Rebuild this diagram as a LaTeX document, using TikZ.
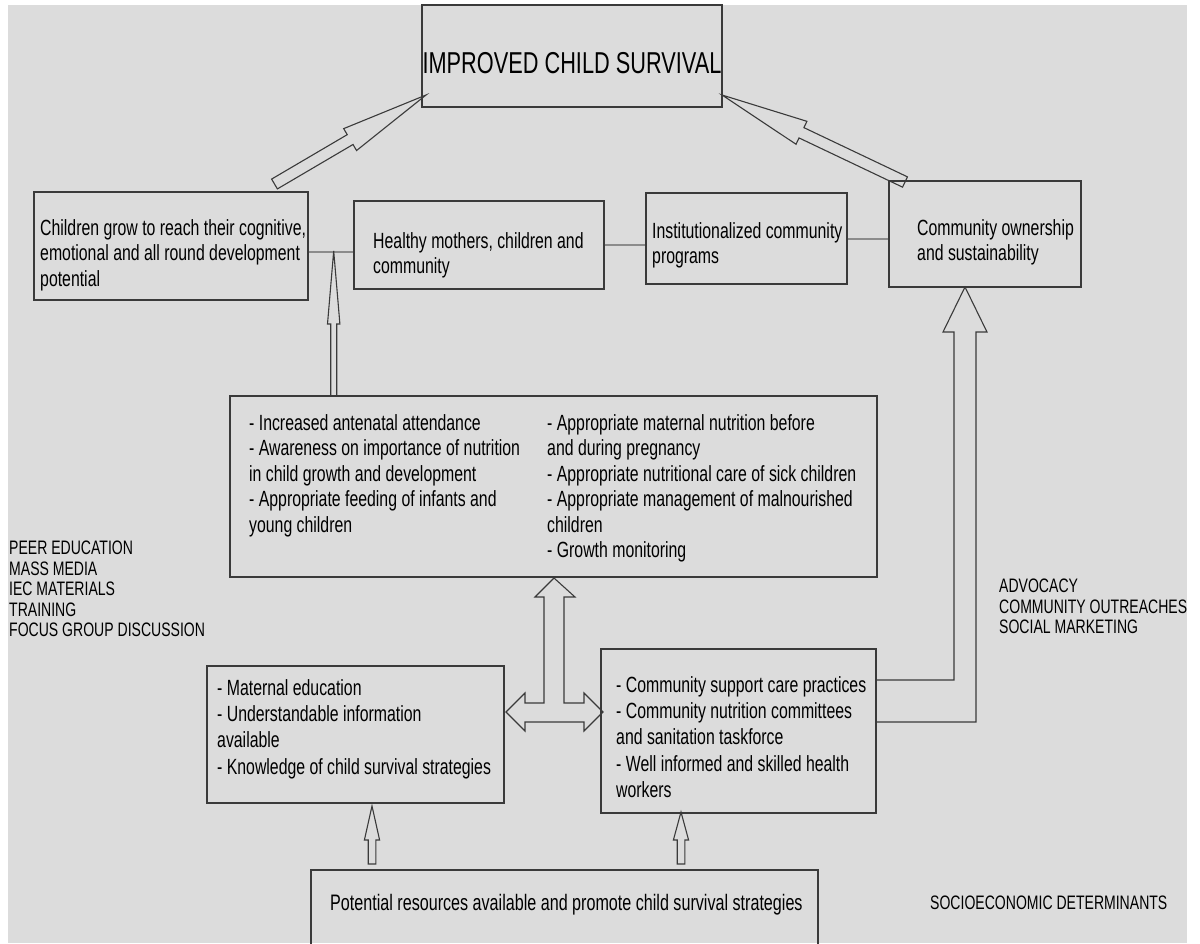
\documentclass[tikz,border=0pt]{standalone}
\usepackage{fontspec}
\setmainfont{Liberation Sans}[FakeStretch=0.72]
\usetikzlibrary{calc}
\definecolor{bgc}{HTML}{DCDCDC}
\definecolor{boxc}{HTML}{3A3A3A}
\definecolor{connc}{HTML}{8C8C8C}
\definecolor{txtc}{HTML}{000000}
\newcommand{\blkarrow}[5]{%
  \coordinate (bA) at ($(#2)!#5!(#1)$);
  \draw[blk] ($(#1)!#3!90:(#2)$) -- ($(bA)!#3!90:(#2)$) -- ($(bA)!#4!90:(#2)$) -- (#2)
    -- ($(bA)!#4!-90:(#2)$) -- ($(bA)!#3!-90:(#2)$) -- ($(#1)!#3!-90:(#2)$) -- cycle;}
\begin{document}
\begin{tikzpicture}[x=1pt,y=-1pt,
  box/.style={draw=boxc, line width=1.3pt, inner sep=0pt},
  conn/.style={draw=connc, line width=1.2pt},
  blk/.style={draw=boxc, line width=1.1pt, line join=miter},
  txt/.style={inner sep=0pt, align=left, anchor=north west, text=txtc,
    font=\fontsize{22}{25.5}\selectfont},
  txtb/.style={txt, font=\fontsize{22}{26.3}\selectfont},
  side/.style={inner sep=0pt, align=left, anchor=north west, text=txtc,
    font=\fontsize{19.5}{20.5}\selectfont}]
\useasboundingbox (0,0) rectangle (1200,943);
\fill[bgc] (8,5) rectangle (1187,943);

% boxes
\node[box, minimum width=300pt, minimum height=102pt] (top) at (572,56) {};
\node[inner sep=0pt, text=txtc, font=\fontsize{30.2}{33}\selectfont, anchor=center] (toptxt) at (572,63.5) {IMPROVED CHILD SURVIVAL};

\node[box, minimum width=274pt, minimum height=108pt] (A) at (171,246) {};
\node[txt] (Atxt) at (40,219) {Children grow to reach their cognitive,\\emotional and all round development\\potential};

\node[box, minimum width=250pt, minimum height=88pt] (B) at (479,245) {};
\node[txt] (Btxt) at (373,232) {Healthy mothers, children and\\community};

\node[box, minimum width=201pt, minimum height=91pt] (C) at (746.5,238.5) {};
\node[txt] (Ctxt) at (652,222) {Institutionalized community\\programs};

\node[box, minimum width=192pt, minimum height=106pt] (D) at (985,234) {};
\node[txt] (Dtxt) at (917,219) {Community ownership\\and sustainability};

\node[box, minimum width=647pt, minimum height=181pt] (E) at (553.5,486.5) {};
\node[txt] (Etxt1) at (249,414) {- Increased antenatal attendance\\- Awareness on importance of nutrition\\in child growth and development\\- Appropriate feeding of infants and\\young children};
\node[txt] (Etxt2) at (547,414) {- Appropriate maternal nutrition before\\and during pregnancy\\- Appropriate nutritional care of sick children\\- Appropriate management of malnourished\\children\\- Growth monitoring};

\node[box, minimum width=297pt, minimum height=137pt] (F) at (355.5,734.5) {};
\node[txtb] (Ftxt) at (217,679) {- Maternal education\\- Understandable information\\available\\- Knowledge of child survival strategies};

\node[box, minimum width=275pt, minimum height=164pt] (G) at (738.5,731) {};
\node[txtb] (Gtxt) at (616,676) {- Community support care practices\\- Community nutrition committees\\and sanitation taskforce\\- Well informed and skilled health\\workers};

\node[box, minimum width=507pt, minimum height=80pt] (H) at (564.5,910) {};
\node[inner sep=0pt, text=txtc, font=\fontsize{22.4}{25.5}\selectfont, anchor=west] (Htxt) at (330,905) {Potential resources available and promote child survival strategies};

% side labels
\node[side] (Ltxt) at (9,541) {PEER EDUCATION\\MASS MEDIA\\IEC MATERIALS\\TRAINING\\FOCUS GROUP DISCUSSION};
\node[side] (Rtxt) at (999,579) {ADVOCACY\\COMMUNITY OUTREACHES\\SOCIAL MARKETING};
\node[side, anchor=west] (Stxt) at (930,903) {SOCIOECONOMIC DETERMINANTS};

% thin connectors
\coordinate (yAB) at (0,252);
\coordinate (yBC) at (0,245);
\coordinate (yCD) at (0,239);
\draw[conn] (A.east |- yAB) -- (B.west |- yAB);
\draw[conn] (B.east |- yBC) -- (C.west |- yBC);
\draw[conn] (C.east |- yCD) -- (D.west |- yCD);

% diagonal block arrows
\coordinate (t1) at (274.5,184);
\coordinate (p1) at (426,95);
\blkarrow{t1}{p1}{5.7pt}{12.7pt}{88pt}
\coordinate (t2) at (905,182);
\coordinate (p2) at (722,95);
\blkarrow{t2}{p2}{5.7pt}{12.7pt}{88pt}

% E -> A/B line
\coordinate (t3) at (333.7,396);
\coordinate (p3) at (333.7,251);
\blkarrow{t3}{p3}{3pt}{6.2pt}{73pt}

% small arrows from H
\coordinate (t4) at (372,864);
\coordinate (p4) at (372,806);
\blkarrow{t4}{p4}{3.8pt}{7.6pt}{34pt}
\coordinate (t5) at (681,864);
\coordinate (p5) at (681,812);
\blkarrow{t5}{p5}{3.8pt}{7.6pt}{28pt}

% T shaped double arrow
\draw[blk] (506,712) -- (525,693) -- (525,703) -- (544,703) -- (544,597) -- (535,597)
  -- (554,578) -- (575,597) -- (564,597) -- (564,703) -- (584,703) -- (584,693)
  -- (603,712) -- (584,731) -- (584,722) -- (525,722) -- (525,731) -- cycle;

% L shaped arrow G -> D
\draw[blk] (876,680) -- (954,680) -- (954,332) -- (943,332) -- (965,287) -- (987,332)
  -- (976,332) -- (976,722) -- (876,722);
\end{tikzpicture}
\end{document}
